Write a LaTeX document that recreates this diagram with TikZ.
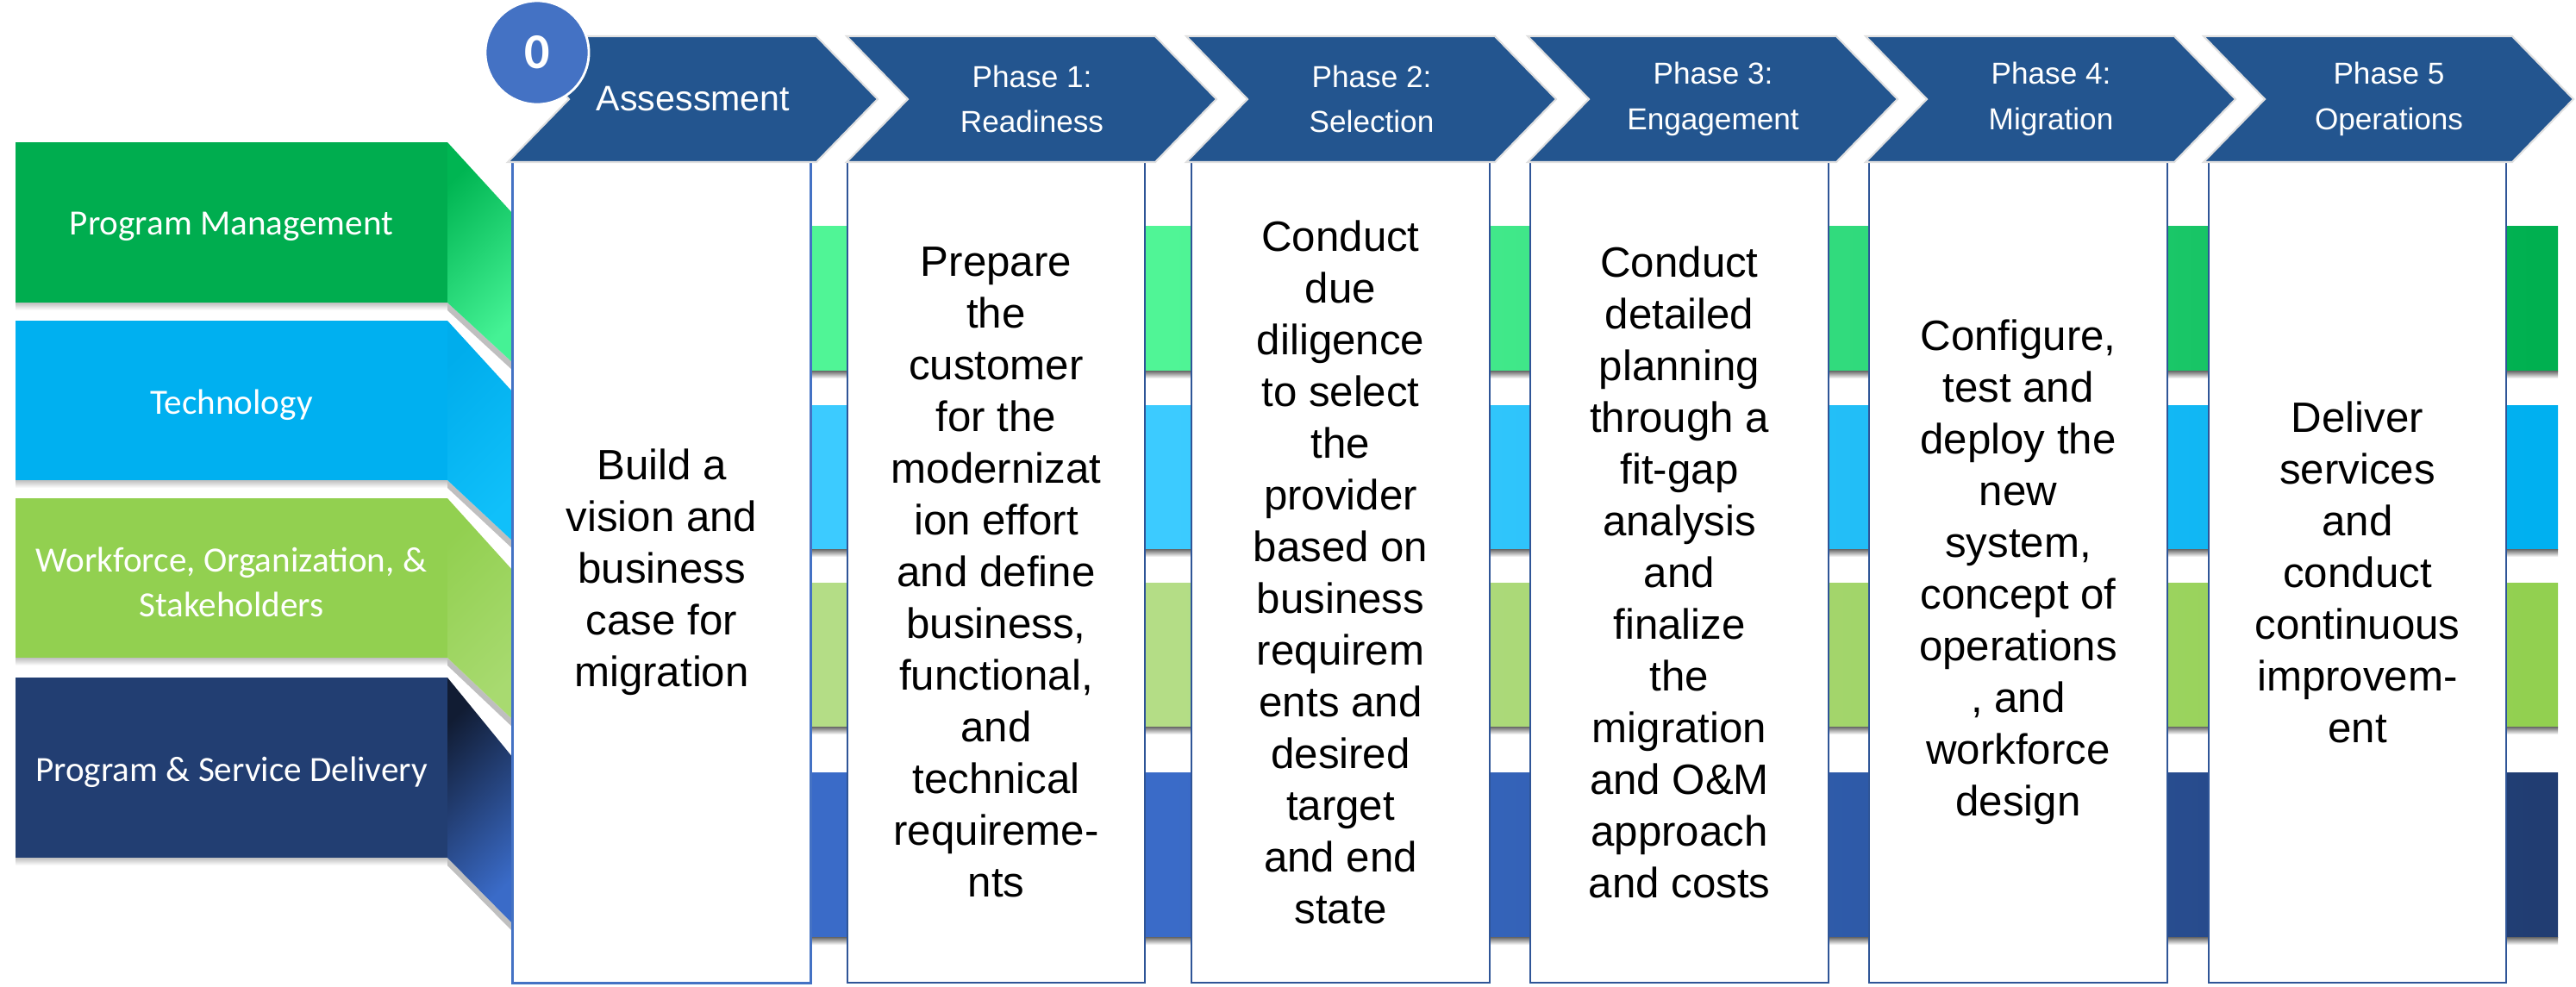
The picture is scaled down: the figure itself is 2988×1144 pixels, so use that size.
\documentclass[tikz,border=0pt]{standalone}
\usepackage{fontspec}
\setmainfont{Liberation Sans}
\newfontfamily\labelfont{Carlito}

% colours
\definecolor{chevblue}{HTML}{23558F}
\definecolor{badgeblue}{HTML}{4472C4}
\definecolor{boxline}{HTML}{2F5597}
\definecolor{pm}{HTML}{00AD4F}  \definecolor{pmA}{HTML}{50F596}  \definecolor{pmB}{HTML}{30DA7C}  \definecolor{pmC}{HTML}{00B050}
\definecolor{pmfold}{HTML}{00B552}  \definecolor{pmfoldend}{HTML}{45F295}
\definecolor{tech}{HTML}{00B0F0}  \definecolor{techA}{HTML}{3CCBFF}  \definecolor{techB}{HTML}{22BEF7}  \definecolor{techC}{HTML}{00B0F0}
\definecolor{techfold}{HTML}{00ADEC}  \definecolor{techfoldend}{HTML}{10C0FA}
\definecolor{wos}{HTML}{92D050}  \definecolor{wosA}{HTML}{B4DD86}  \definecolor{wosB}{HTML}{A2D56A}  \definecolor{wosC}{HTML}{92D050}
\definecolor{wosfold}{HTML}{92D050}  \definecolor{wosfoldend}{HTML}{A8DA70}
\definecolor{psd}{HTML}{223E72}  \definecolor{psdA}{HTML}{3A6BC8}  \definecolor{psdB}{HTML}{2E5AA8}  \definecolor{psdC}{HTML}{213D72}
\definecolor{psdfold}{HTML}{111C33}  \definecolor{psdfoldend}{HTML}{3A6BC8}

\newcommand{\BandShading}[1]{
  \pgfdeclarehorizontalshading{#1band}{100bp}{color(0bp)=(#1A); color(41bp)=(#1A); color(58bp)=(#1B); color(74.4bp)=(#1C); color(100bp)=(#1C)}
}
\BandShading{pm}
\BandShading{tech}
\BandShading{wos}
\BandShading{psd}

\tikzset{
  phase arrow/.style={fill=chevblue, draw=black!12, line width=0.6pt},
  phase title/.style={text=white, align=center, font=\fontsize{10}{15}\selectfont},
  phase box/.style={draw=boxline, line width=0.6pt, fill=white, inner sep=0pt,
    minimum width=3.45cm, minimum height=9.52cm, align=center, font=\fontsize{14}{17.07}\selectfont},
  stream/.style={inner sep=0pt, minimum width=5.01cm, text=white, align=center,
    font=\labelfont\fontsize{11.7}{14.8}\selectfont},
  stream text/.style={text=white, align=center, font=\labelfont\fontsize{11.7}{14.8}\selectfont},
  band shadow/.style={top color=black!60, bottom color=white},
  label shadow/.style={top color=black!25, bottom color=white},
  fold shadow/.style={fill=black!25},
  badge/.style={circle, fill=badgeblue, draw=white, line width=0.8pt, minimum size=1.2cm, inner sep=0pt,
    text=white, font=\labelfont\bfseries\fontsize{16.5}{16.5}\selectfont},
}

\newcommand{\Workstream}[8]{
  \shade [shading=#1band] (595, #5) rectangle (2967, #6);
  \shade [band shadow] (595, #6) rectangle (2967, #6 + 9);
  \shade [label shadow] (18, #4) rectangle (519, #4 + 9);
  \fill [fold shadow] (519, #4) -- (595, #8) -- (595, #8 + 9) -- (519, #4 + 9) -- cycle;
  \shade [top color=#1fold, bottom color=#1foldend, shading angle=45] (519, #3) -- (595, #7) -- (595, #8) -- (519, #4) -- cycle;
  \fill [#1] (18, #3) rectangle (519, #4);
  \node [stream text] (#1) at (268.5, {(#3 + #4) / 2 + 5}) {#2};
}
\newcommand{\PhaseColumn}[6][]{
  \node [phase box, #1] (#2) at (#4, 664) {#6};
  \fill [phase arrow] (#3, 42) -- ++(358, 0) -- ++(71, 73) -- ++(-71, 73) -- ++(-358, 0) -- ++(71, -73) -- cycle;
  \node [phase title] (#2 title) at (#3 + 215, 115) {#5};
}

\begin{document}
\begin{tikzpicture}[x=0.01cm, y=-0.01cm]
  \useasboundingbox (0, 0) rectangle (2988, 1144);

  % workstreams, left labels running behind the phase boxes
  \Workstream{pm}{Program Management}{165}{351}{262}{430}{248}{421}
  \Workstream{tech}{Technology}{372}{557}{470}{637}{455}{628}
  \Workstream{wos}{Workforce, Organization, \&\\Stakeholders}{578}{763}{676}{843}{662}{835}
  \Workstream{psd}{Program \& Service Delivery}{786}{995}{896}{1087}{879}{1072}

  % phases
  \PhaseColumn[draw=badgeblue, line width=0.85pt]{assessment}{589}{767.5}{\fontsize{11.7}{14}\selectfont Assessment}
    {Build a\\vision and\\business\\case for\\migration}
  \PhaseColumn{readiness}{982}{1155.5}{Phase 1:\\Readiness}
    {Prepare\\the\\customer\\for the\\modernizat\\ion effort\\and define\\business,\\functional,\\and\\technical\\requireme-\\nts}
  \PhaseColumn{selection}{1376}{1555}{Phase 2:\\Selection}
    {Conduct\\due\\diligence\\to select\\the\\provider\\based on\\business\\requirem\\ents and\\desired\\target\\and end\\state}
  \PhaseColumn{engagement}{1772}{1948}{Phase 3:\\Engagement}
    {Conduct\\detailed\\planning\\through a\\fit-gap\\analysis\\and\\finalize\\the\\migration\\and O\&M\\approach\\and costs}
  \PhaseColumn{migration}{2164}{2341}{Phase 4:\\Migration}
    {Configure,\\test and\\deploy the\\new\\system,\\concept of\\operations\\, and\\workforce\\design}
  \PhaseColumn{operations}{2556}{2734.5}{Phase 5\\Operations}
    {Deliver\\services\\and\\conduct\\continuous\\improvem-\\ent}

  % step number
  \node [badge] (badge) at (623, 61) {0};

\end{tikzpicture}
\end{document}
